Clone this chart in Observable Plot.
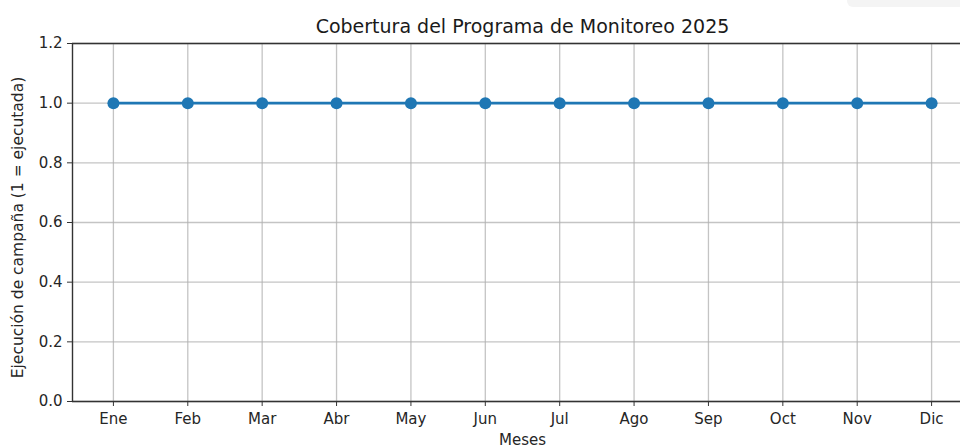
<!DOCTYPE html>
<html>
<head>
<meta charset="utf-8">
<script src="https://cdn.jsdelivr.net/npm/d3@7"></script>
<script src="https://cdn.jsdelivr.net/npm/@observablehq/plot@0.6"></script>
<style>
  html, body { margin: 0; padding: 0; background: #fff; }
  #wrap { position: relative; width: 960px; height: 448px; overflow: hidden; }
  #corner { position: absolute; left: 847px; top: 0; width: 113px; height: 7px; background: #f4f4f4; border-bottom-left-radius: 6px; }
  svg { font-family: "DejaVu Sans", sans-serif; }
</style>
</head>
<body>
<div id="wrap"><div id="corner"></div></div>
<script>
const months = ["Ene","Feb","Mar","Abr","May","Jun","Jul","Ago","Sep","Oct","Nov","Dic"];
const executed = [1,1,1,1,1,1,1,1,1,1,1,1];
const yTicks = [0, 0.2, 0.4, 0.6, 0.8, 1.0, 1.2];
const titleText = "Cobertura del Programa de Monitoreo 2025";
const xLabel = "Meses";
const yLabel = "Ejecución de campaña (1 = ejecutada)";

const data = months.map((m, i) => ({i, m, v: executed[i]}));
const idx = months.map((_, i) => i);
const blue = "#1f77b4";
const xmin = -0.55, xmax = months.length - 1 + 0.55;

const chart = Plot.plot({
  width: 960,
  height: 448,
  marginLeft: 72, marginRight: 0, marginTop: 43, marginBottom: 47,
  style: {fontFamily: "DejaVu Sans, sans-serif", background: "transparent", overflow: "visible"},
  x: {type: "linear", domain: [xmin, xmax], range: [72, 972]},
  y: {domain: [0, 1.2], range: [401, 43]},
  marks: [
    Plot.gridX(idx, {stroke: "#b0b0b0", strokeOpacity: 0.75, strokeWidth: 1.3}),
    Plot.gridY(yTicks, {stroke: "#b0b0b0", strokeOpacity: 0.75, strokeWidth: 1.3}),
    Plot.axisX(idx, {tickFormat: i => months[i], tickSize: 5, tickPadding: 7, fontSize: 15, fill: "#262626", stroke: "#333", label: null}),
    Plot.axisY(yTicks, {tickFormat: d3.format(".1f"), tickSize: 5, tickPadding: 5, fontSize: 15, fill: "#262626", stroke: "#333", label: null}),
    Plot.ruleY([0], {stroke: "#333", strokeWidth: 1.4}),
    Plot.ruleY([1.2], {stroke: "#333", strokeWidth: 1.4}),
    Plot.ruleX([xmin], {stroke: "#333", strokeWidth: 1.4}),
    Plot.line(data, {x: "i", y: "v", stroke: blue, strokeWidth: 2.8}),
    Plot.dot(data, {x: "i", y: "v", fill: blue, r: 6}),
    Plot.text([titleText], {x: (xmin + xmax) / 2, y: 1.2, dy: -17, text: d => d, fontSize: 19, fill: "#1a1a1a", lineAnchor: "middle"}),
    Plot.text([xLabel], {x: (xmin + xmax) / 2, y: 0, dy: 39, text: d => d, fontSize: 15, fill: "#262626", lineAnchor: "middle"}),
    Plot.text([yLabel], {x: xmin, y: 0.6, dx: -54, dy: 5, text: d => d, fontSize: 15.5, fill: "#262626", rotate: -90, lineAnchor: "middle"})
  ]
});
document.getElementById("wrap").prepend(chart);
</script>
</body>
</html>
